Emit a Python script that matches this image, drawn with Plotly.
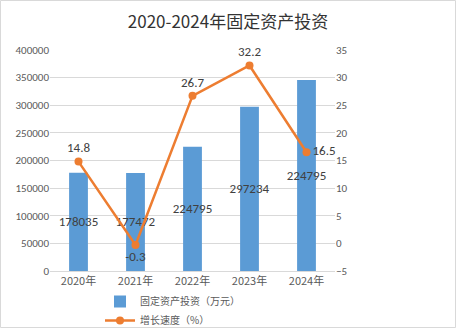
import plotly.graph_objects as go

years = ["2020年", "2021年", "2022年", "2023年", "2024年"]
investment = [178035, 177472, 224795, 297234, 345500]
investment_labels = ["178035", "177472", "224795", "297234", "224795"]
growth = [14.8, -0.3, 26.7, 32.2, 16.5]
growth_labels = ["14.8", "-0.3", "26.7", "32.2", "16.5"]

W, H = 456, 328
L, R, T, B = 50, 121, 50, 57
pw, ph = W - L - R, H - T - B

font_family = "Calibri, 'Open Sans', 'Noto Sans CJK SC', sans-serif"
cjk = "'Noto Sans CJK SC', sans-serif"

fig = go.Figure()
fig.add_trace(go.Bar(
    x=years, y=investment, name="固定资产投资（万元）",
    marker=dict(color="#5B9BD5", line=dict(width=0)),
    width=0.33,
    text=investment_labels, textposition="inside", insidetextanchor="middle",
    constraintext="none",
    textfont=dict(size=13, color="#404040", family=font_family),
    textangle=0, cliponaxis=False,
))
fig.add_trace(go.Scatter(
    x=years, y=growth, name="增长速度（%）", yaxis="y2",
    mode="lines+markers+text",
    line=dict(color="#ED7D31", width=2.5),
    marker=dict(color="#ED7D31", size=8),
    text=growth_labels,
    textposition=["top center", "bottom center", "top center", "top center", "middle right"],
    textfont=dict(size=13, color="#404040", family=font_family),
    cliponaxis=False,
))

fig.update_layout(
    width=W, height=H,
    margin=dict(l=L, r=R, t=T, b=B, autoexpand=False),
    paper_bgcolor="white", plot_bgcolor="white",
    font=dict(family=font_family, size=11, color="#595959"),
    title=dict(text="2020-2024年固定资产投资", x=0.5, xref="container", xanchor="center",
               y=1 - 22 / H, yanchor="middle",
               font=dict(size=17, color="#333333", family=cjk)),
    showlegend=True,
    legend=dict(orientation="v", x=(100 - L) / pw, xanchor="left",
                y=-(287 - T - ph) / ph, yanchor="top",
                font=dict(size=10, color="#595959", family=cjk),
                bgcolor="rgba(0,0,0,0)", tracegroupgap=0, itemwidth=30,
                borderwidth=0),
    bargap=0.67,
    xaxis=dict(showgrid=False, showline=True, linecolor="#D9D9D9", ticks="",
               tickfont=dict(size=11, color="#595959", family=cjk)),
    yaxis=dict(range=[0, 400000], dtick=50000, showgrid=True, gridcolor="#D9D9D9",
               zeroline=False, showline=False, ticks="", tickformat="d",
               tickfont=dict(size=11, color="#595959")),
    yaxis2=dict(range=[-5, 35], dtick=5, overlaying="y", side="right", showgrid=False,
                zeroline=False, showline=False, ticks="",
                tickfont=dict(size=11, color="#595959")),
    shapes=[dict(type="rect", xref="paper", yref="paper",
                 x0=-(L - 0.5) / pw, x1=1 + (R - 0.5) / pw,
                 y0=-(B - 0.5) / ph, y1=1 + (T - 0.5) / ph,
                 line=dict(color="#D9D9D9", width=1), layer="below")],
)

fig.write_html("out.html")
